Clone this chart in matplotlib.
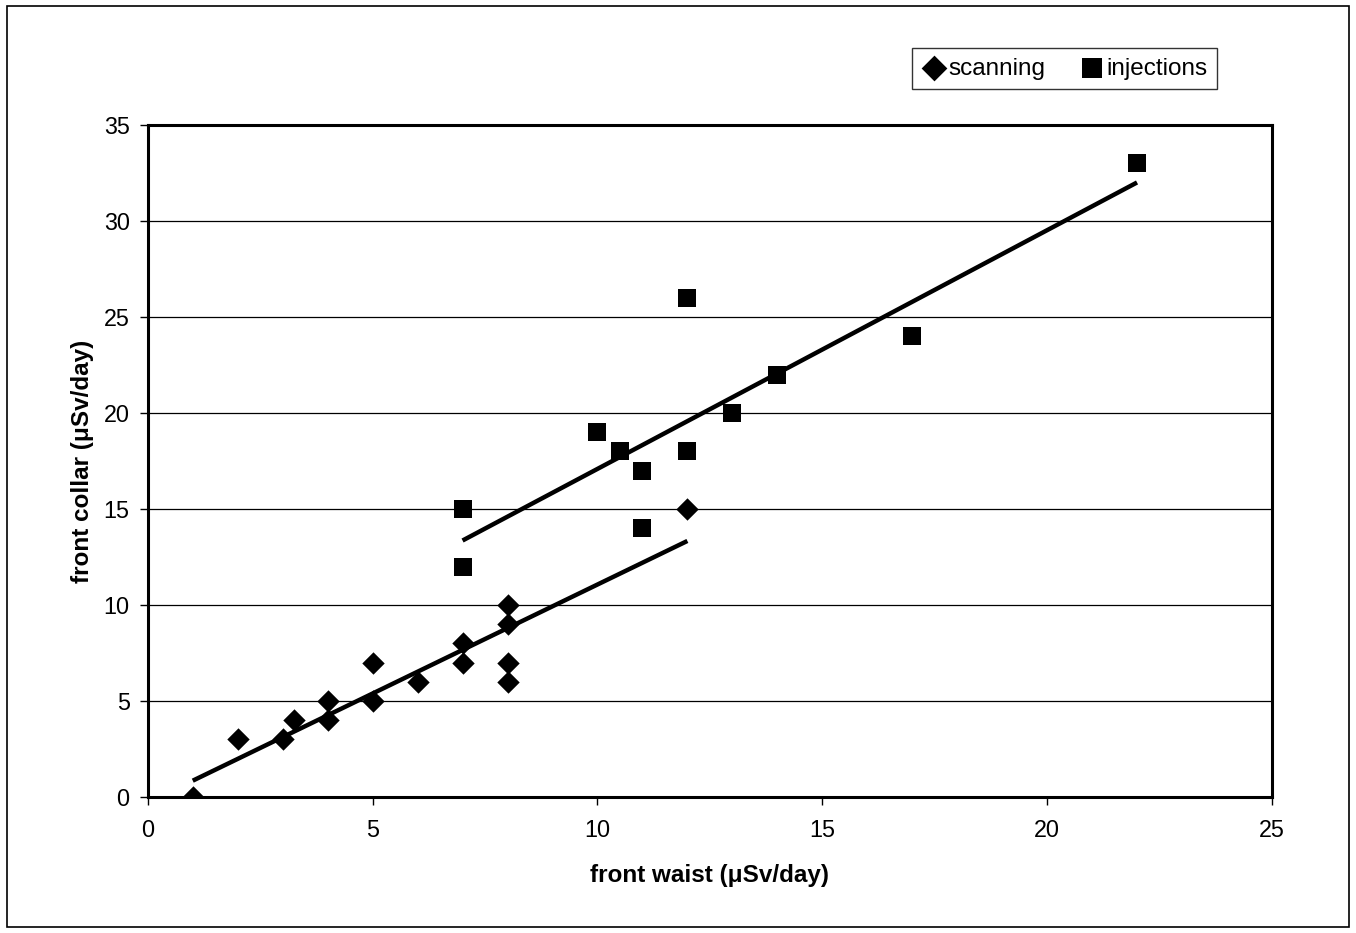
import numpy as np
import matplotlib
matplotlib.use("Agg")
import matplotlib.pyplot as plt
from matplotlib.patches import Rectangle

plt.rcParams["font.family"] = ["Liberation Sans", "DejaVu Sans"]

# scanning: front waist vs front collar (uSv/day)
scan_x = [1, 2, 3, 3.25, 4, 4, 5, 5, 6, 7, 7, 8, 8, 8, 8, 12]
scan_y = [0, 3, 3, 4, 4, 5, 5, 7, 6, 7, 8, 6, 7, 9, 10, 15]

# injections
inj_x = [7, 7, 10, 10.5, 11, 11, 12, 12, 13, 14, 17, 22]
inj_y = [12, 15, 19, 18, 17, 14, 26, 18, 20, 22, 24, 33]

x_ticks = [0, 5, 10, 15, 20, 25]
y_ticks = [0, 5, 10, 15, 20, 25, 30, 35]

fig = plt.figure(figsize=(13.56, 9.33), dpi=100)
ax = fig.add_axes([0.109, 0.1458, 0.829, 0.7202])

# outer frame around the whole chart
fig.patches.append(Rectangle((0.005, 0.006), 0.990, 0.988, transform=fig.transFigure,
                             fill=False, edgecolor="black", linewidth=1.2))

for y in y_ticks[1:-1]:
    ax.axhline(y, color="black", linewidth=0.9, zorder=1)

ax.scatter(scan_x, scan_y, marker="D", s=130, color="black", zorder=3,
           label="scanning", linewidths=0)
ax.scatter(inj_x, inj_y, marker="s", s=155, color="black", zorder=3,
           label="injections", linewidths=0)

# linear trend lines
for xs, ys in [(scan_x, scan_y), (inj_x, inj_y)]:
    k, b = np.polyfit(xs, ys, 1)
    xx = np.array([min(xs), max(xs)])
    ax.plot(xx, k * xx + b, color="black", linewidth=3.2, zorder=2,
            solid_capstyle="butt")

ax.set_xlim(0, 25)
ax.set_ylim(0, 35)
ax.set_xticks(x_ticks)
ax.set_yticks(y_ticks)
ax.tick_params(axis="both", labelsize=16.8, length=6, width=1, direction="out")
ax.tick_params(axis="y", pad=7)
ax.tick_params(axis="x", pad=10)
for s in ax.spines.values():
    s.set_linewidth(2.2)

ax.set_xlabel("front waist (\u03bcSv/day)", fontsize=17.5, fontweight="bold",
              labelpad=16)
ax.set_ylabel("front collar (\u03bcSv/day)", fontsize=17.5, fontweight="bold",
              labelpad=7)

leg = ax.legend(loc="upper left", bbox_to_anchor=(0.6797, 1.1146), ncol=2,
                fontsize=17.5, frameon=True, fancybox=False, handletextpad=0.1,
                columnspacing=1.4, handlelength=1.0, borderpad=0.4,
                borderaxespad=0, markerscale=1.15)
leg.get_frame().set_edgecolor("black")
leg.get_frame().set_linewidth(1.0)

fig.savefig("out.png", dpi=100)
